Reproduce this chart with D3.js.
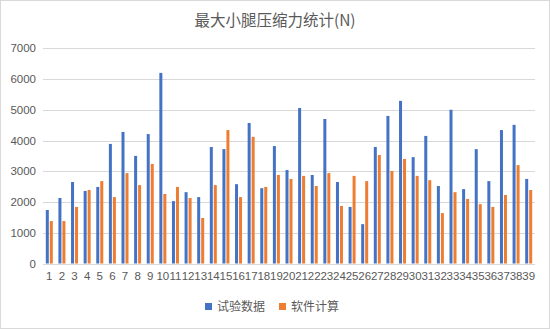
<!DOCTYPE html>
<html><head><meta charset="utf-8">
<script src="https://cdn.jsdelivr.net/npm/d3@7"></script>
<style>html,body{margin:0;padding:0;background:#fff;}svg{display:block;}</style>
</head><body>
<script>
const categories = Array.from({length:39},(_,i)=>String(i+1));
const testData = [1740,2130,2650,2360,2490,3890,4280,3500,4210,6200,
  2030,2320,2160,3790,3720,2580,4570,2450,3820,3040,
  5060,2880,4700,2650,1840,1280,3790,4800,5290,3460,
  4150,2520,5000,2420,3720,2680,4340,4510,2750];
const simData = [1380,1380,1840,2390,2680,2160,2940,2550,3240,2260,
  2490,2130,1480,2550,4340,2160,4120,2490,2880,2750,
  2850,2520,2940,1870,2850,2680,3530,3010,3400,2850,
  2710,1640,2320,2100,1930,1840,2230,3200,2390];
const yTicks = [0,1000,2000,3000,4000,5000,6000,7000];
const seriesNames = ["试验数据","软件计算"];
const colors = ["#4472C4","#ED7D31"];

const W=550,H=329;
const svg=d3.select("body").append("svg").attr("width",W).attr("height",H);
svg.append("rect").attr("x",0.5).attr("y",0.5).attr("width",W-1).attr("height",H-1)
  .attr("fill","#fff").attr("stroke","#d9d9d9");

const x0=43,x1=535,yBot=263.5,yTop=48.3;
const x=d3.scaleBand().domain(categories).range([x0,x1]).padding(0);
const y=d3.scaleLinear().domain([0,7000]).range([yBot,yTop]);

svg.append("g").selectAll("line").data(yTicks).join("line")
  .attr("x1",x0).attr("x2",x1)
  .attr("y1",d=>Math.round(y(d))+0.5).attr("y2",d=>Math.round(y(d))+0.5)
  .attr("stroke","#d9d9d9").attr("stroke-width",1);

const yAxis=d3.axisLeft(y).tickValues(yTicks).tickFormat(d3.format("d")).tickSize(0).tickPadding(7);
const gy=svg.append("g").attr("transform",`translate(${x0},0)`).call(yAxis);
gy.select(".domain").remove();
gy.selectAll("text").attr("fill","#595959").attr("font-size","11.5px")
  .attr("font-family","'Liberation Sans', Arial, sans-serif");

const xAxis=d3.axisBottom(x).tickSize(0).tickPadding(8);
const gx=svg.append("g").attr("transform",`translate(0,${yBot})`).call(xAxis);
gx.select(".domain").remove();
gx.selectAll("text").attr("fill","#595959").attr("font-size","11.5px")
  .attr("font-family","'Liberation Sans', Arial, sans-serif");

const bw=3, gap=1;
const series=[testData,simData];
series.forEach((vals,si)=>{
  svg.append("g").selectAll("rect").data(vals).join("rect")
    .attr("x",(d,i)=>x(categories[i])+x.bandwidth()/2 + (si===0 ? -(bw+gap/2) : gap/2))
    .attr("width",bw)
    .attr("y",d=>y(d))
    .attr("height",d=>yBot-y(d))
    .attr("fill",colors[si]);
});

svg.append("text").attr("x",275).attr("y",26).attr("text-anchor","middle")
  .attr("font-family","'Noto Sans CJK SC', sans-serif").attr("font-size","15.5px")
  .attr("fill","#595959").text("最大小腿压缩力统计(N)");

const legX=[205,279];
seriesNames.forEach((n,i)=>{
  svg.append("rect").attr("x",legX[i]).attr("y",303).attr("width",7).attr("height",7).attr("fill",colors[i]);
  svg.append("text").attr("x",legX[i]+12).attr("y",311).attr("font-size","12px")
    .attr("font-family","'Noto Sans CJK SC', sans-serif").attr("fill","#595959").text(n);
});
</script>
</body></html>
